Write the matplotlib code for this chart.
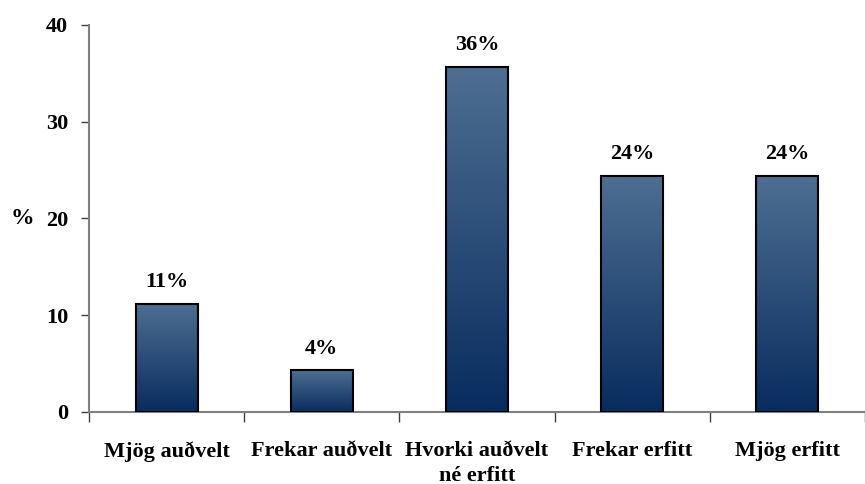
import numpy as np
import matplotlib.pyplot as plt
from matplotlib.colors import LinearSegmentedColormap

categories = ["Mjög auðvelt", "Frekar auðvelt", "Hvorki auðvelt\nné erfitt",
              "Frekar erfitt", "Mjög erfitt"]
values = [11.2, 4.3, 35.7, 24.4, 24.4]
labels = ["11%", "4%", "36%", "24%", "24%"]

plt.rcParams['font.family'] = ['Liberation Serif', 'DejaVu Serif']
plt.rcParams['font.weight'] = 'bold'
FS = 16

fig = plt.figure(figsize=(8.65, 4.84), dpi=100)
ax = fig.add_axes([0.1029, 0.1488, 0.8971, 0.7996])

grad = LinearSegmentedColormap.from_list("bar", ["#082c5e", "#4e6f92"])
x = np.arange(len(categories))
bars = ax.bar(x, values, width=0.4, facecolor="none", edgecolor="black",
              linewidth=1.5, zorder=3)
g = np.linspace(0, 1, 256).reshape(-1, 1)
for b in bars:
    x0, y0 = b.get_x(), b.get_y()
    im = ax.imshow(g, cmap=grad, origin="lower", aspect="auto",
                   extent=(x0, x0 + b.get_width(), y0, y0 + b.get_height()),
                   zorder=2)
    im.set_clip_path(b)

for xi, v, lab in zip(x, values, labels):
    ax.text(xi, v + 1.2, lab, ha="center", va="bottom", fontsize=FS,
            fontweight="bold")

ax.set_xlim(-0.5, 4.45)
ax.set_ylim(0, 40)
ax.set_yticks([0, 10, 20, 30, 40])
ax.set_xticks(x)
ax.set_xticklabels(categories, linespacing=1.3)
ax.set_xticks(np.arange(-0.5, 5, 1.0), minor=True)
ax.tick_params(axis="x", which="major", length=0, pad=21, labelsize=FS)
ax.tick_params(axis="x", which="minor", length=7, width=1, color="#404040")
ax.tick_params(axis="y", length=6, width=1, color="#404040", pad=9,
               labelsize=FS)

for s in ["top", "right"]:
    ax.spines[s].set_visible(False)
for s in ["left", "bottom"]:
    ax.spines[s].set_color("#808080")
    ax.spines[s].set_linewidth(1.5)

ax.set_ylabel("%", rotation=0, fontsize=FS + 1, fontweight="bold",
              labelpad=17, va="center")

fig.savefig("out.png", dpi=100)
